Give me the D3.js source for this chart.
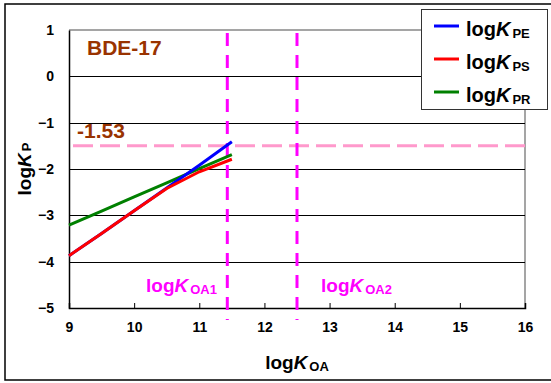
<!DOCTYPE html>
<html>
<head>
<meta charset="utf-8">
<script src="https://cdn.jsdelivr.net/npm/d3@7"></script>
<style>
body { margin:0; background:#fff; }
text { font-family: Arial, "Liberation Sans", sans-serif; font-weight:bold; }
</style>
</head>
<body>
<div id="chart"></div>
<script>
var width = 551;
var height = 383;
var margin = {left:69, top:30, right:26, bottom:75};

// data
var logKOA = [9, 9.5, 10, 10.5, 11, 11.5];
var logKPE = [-3.87, -3.39, -2.90, -2.41, -1.92, -1.41];
var logKPS = [-3.87, -3.39, -2.90, -2.42, -2.06, -1.79];
var logKPR = [-3.21, -2.91, -2.60, -2.30, -1.99, -1.69];
var threshold = -1.5;
var thresholdLabel = "-1.53";
var kOA1 = 11.43;
var kOA2 = 12.5;
var xTicks = [9, 10, 11, 12, 13, 14, 15, 16];
var yTicks = [1, 0, -1, -2, -3, -4, -5];
var seriesNames = ["PE", "PS", "PR"];
var seriesColors = ["#0000ff", "#ff0000", "#008000"];

var svg = d3.select("#chart").append("svg")
  .attr("width", width)
  .attr("height", height);

var xScale = d3.scaleLinear().domain([9, 16]).range([margin.left, width - margin.right]);
var yScale = d3.scaleLinear().domain([-5, 1]).range([height - margin.bottom, margin.top]);

// outer frame
svg.append("rect")
  .attr("x", 5).attr("y", 4)
  .attr("width", 560).attr("height", 376)
  .attr("fill", "#fff").attr("stroke", "#000").attr("stroke-width", 1.5);

// plot box (top/right gray)
svg.append("path")
  .attr("d", "M" + xScale(9) + "," + yScale(1) + "H" + xScale(16) + "V" + yScale(-5))
  .attr("fill", "none").attr("stroke", "#888").attr("stroke-width", 1.5);

// grid lines
svg.append("g").selectAll("line")
  .data(yTicks.filter(function(d){ return d < 1 && d > -5; }))
  .enter().append("line")
  .attr("x1", xScale(9)).attr("x2", xScale(16))
  .attr("y1", function(d){ return Math.round(yScale(d)) + 0.5; })
  .attr("y2", function(d){ return Math.round(yScale(d)) + 0.5; })
  .attr("stroke", "#000").attr("stroke-width", 1);

// axes
var xAxis = d3.axisBottom(xScale).tickValues(xTicks).tickFormat(d3.format("d")).tickSize(-5).tickPadding(14);
var yAxis = d3.axisLeft(yScale).tickValues(yTicks).tickFormat(d3.format("d")).tickSize(0).tickPadding(15);

var gx = svg.append("g")
  .attr("transform", "translate(0," + yScale(-5) + ")")
  .call(xAxis);
var gy = svg.append("g")
  .attr("transform", "translate(" + xScale(9) + ",0)")
  .call(yAxis);
[gx, gy].forEach(function(g){
  g.select(".domain").attr("stroke", "#000").attr("stroke-width", 1.5);
  g.selectAll(".tick line").attr("stroke", "#000");
  g.selectAll(".tick text").attr("font-size", 14).attr("fill", "#000")
    .style("font-family", "Arial, 'Liberation Sans', sans-serif").style("font-weight", "bold");
});

// threshold line
svg.append("line")
  .attr("x1", xScale(9) + 4).attr("x2", xScale(16))
  .attr("y1", yScale(threshold)).attr("y2", yScale(threshold))
  .attr("stroke", "#ff99cc").attr("stroke-width", 3)
  .attr("stroke-dasharray", "20,7");

// vertical koa lines
svg.append("g").selectAll("line")
  .data([kOA1, kOA2])
  .enter().append("line")
  .attr("x1", function(d){ return xScale(d); })
  .attr("x2", function(d){ return xScale(d); })
  .attr("y1", yScale(1) + 3).attr("y2", yScale(-5) + 12)
  .attr("stroke", "#ff00ff").attr("stroke-width", 3)
  .attr("stroke-dasharray", "13,9");

// series
var line = d3.line()
  .x(function(d){ return xScale(d[0]); })
  .y(function(d){ return yScale(d[1]); });

var allSeries = [logKPE, logKPS, logKPR];
[2, 0, 1].forEach(function(i){
  svg.append("path")
    .datum(logKOA.map(function(x, j){ return [x, allSeries[i][j]]; }))
    .attr("d", line)
    .attr("fill", "none")
    .attr("stroke", seriesColors[i])
    .attr("stroke-width", 3);
});

// labels
svg.append("text")
  .attr("x", 87).attr("y", 55)
  .attr("font-size", 21).attr("fill", "#993300")
  .text("BDE-17");
svg.append("text")
  .attr("x", 77).attr("y", 138)
  .attr("font-size", 21).attr("fill", "#993300")
  .text(thresholdLabel);

function logK(sel, sub, big, small, shift) {
  sel.append("tspan").attr("font-size", big).text("log");
  sel.append("tspan").attr("font-size", big).attr("font-style", "italic").text("K");
  var s = sel.append("tspan").attr("font-size", small).attr("dx", 2).text(sub);
  if (shift) s.attr("dy", 2);
}

svg.append("text").attr("x", 146).attr("y", 292).attr("fill", "#ff00ff")
  .call(logK, "OA1", 19, 13, true);
svg.append("text").attr("x", 321).attr("y", 292).attr("fill", "#ff00ff")
  .call(logK, "OA2", 19, 13, true);

// axis titles
svg.append("text")
  .attr("x", xScale(12.5)).attr("y", 369)
  .attr("text-anchor", "middle").attr("fill", "#000")
  .call(logK, "OA", 19, 13, true);
var yTitle = svg.append("g")
  .attr("transform", "translate(31," + yScale(-2) + ") rotate(-90)");
yTitle.append("text")
  .attr("text-anchor", "middle").attr("fill", "#000")
  .call(logK, "P", 19, 13, false);

// legend
var legend = svg.append("g");
legend.append("rect")
  .attr("x", 421.5).attr("y", 9.5)
  .attr("width", 126).attr("height", 100)
  .attr("fill", "#fff").attr("stroke", "#333").attr("stroke-width", 1);
seriesNames.forEach(function(name, i){
  var y = 26 + i * 33;
  legend.append("line")
    .attr("x1", 434).attr("x2", 459)
    .attr("y1", y).attr("y2", y)
    .attr("stroke", seriesColors[i]).attr("stroke-width", 3);
  legend.append("text")
    .attr("x", 466).attr("y", y + 10)
    .attr("fill", "#000")
    .call(logK, name, 20, 13, true);
});
</script>
</body>
</html>
